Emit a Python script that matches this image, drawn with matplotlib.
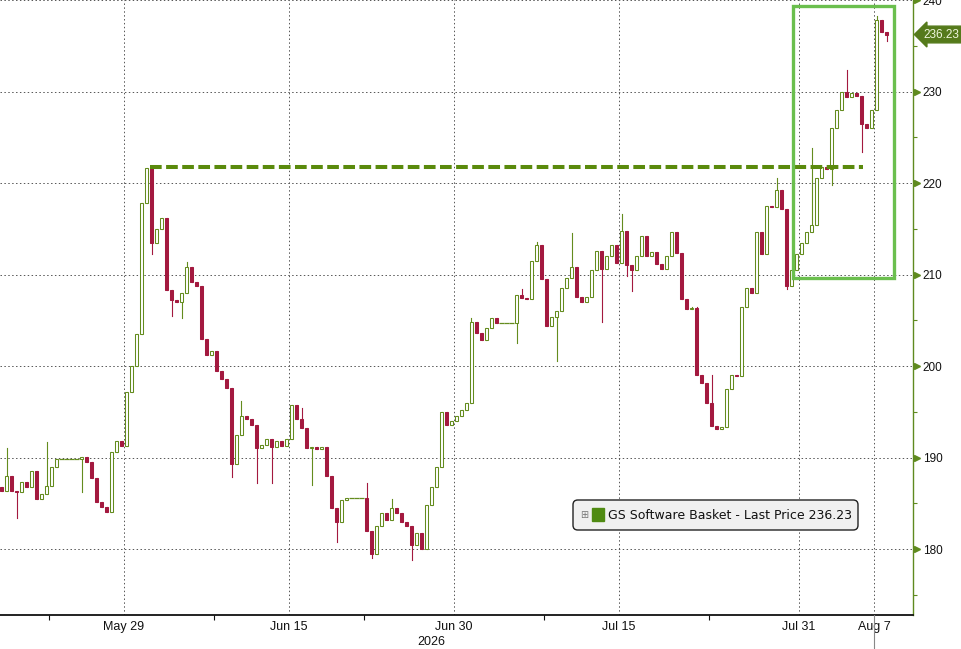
import matplotlib
matplotlib.use("Agg")
import matplotlib.pyplot as plt
import matplotlib.transforms as mtransforms
from matplotlib.patches import Rectangle, FancyBboxPatch
from matplotlib.lines import Line2D
import pandas as pd

# ---------------- data ----------------
days = pd.bdate_range("2026-05-18", "2026-08-07")  # 60 business days (holidays shown flat)
CANDLES_PER_DAY = 3
first_open = 187.0
closes = [
    187.5, 186.8, 186.3,   # May 18
    188.0, 186.4, 186.2,   # May 19
    187.3, 186.8, 188.5,   # May 20
    185.5, 186.0, 186.9,   # May 21
    189.0, 189.8, 189.8,   # May 22
    189.8, 189.8, 189.8,   # May 25 (holiday)
    190.1, 189.5, 187.8,   # May 26
    185.2, 184.6, 184.1,   # May 27
    190.6, 191.8, 191.3,   # May 28
    197.2, 200.0, 203.5,   # May 29
    217.8, 221.6, 213.5,   # Jun 1
    215.0, 216.2, 208.3,   # Jun 2
    207.2, 207.0, 208.0,   # Jun 3
    210.8, 209.2, 208.8,   # Jun 4
    203.0, 201.2, 201.6,   # Jun 5
    199.5, 198.6, 197.6,   # Jun 8
    189.3, 192.5, 194.5,   # Jun 9
    194.2, 193.6, 191.0,   # Jun 10
    191.4, 192.0, 191.2,   # Jun 11
    191.8, 191.3, 192.0,   # Jun 12
    195.8, 194.2, 193.2,   # Jun 15
    191.0, 191.2, 190.9,   # Jun 16
    191.2, 188.0, 184.5,   # Jun 17
    183.0, 185.4, 185.6,   # Jun 18
    185.6, 185.6, 185.6,   # Jun 19 (holiday)
    182.0, 179.5, 182.5,   # Jun 22
    184.0, 183.2, 184.5,   # Jun 23
    184.0, 183.0, 182.5,   # Jun 24
    180.5, 181.8, 180.0,   # Jun 25
    184.8, 186.8, 189.0,   # Jun 26
    195.0, 193.6, 194.0,   # Jun 29
    194.5, 195.2, 196.0,   # Jun 30
    204.8, 203.6, 202.8,   # Jul 1
    204.2, 205.3, 204.7,   # Jul 2
    204.7, 204.7, 204.7,   # Jul 3 (holiday)
    207.8, 207.4, 207.3,   # Jul 6
    211.5, 213.2, 209.5,   # Jul 7
    204.4, 205.4, 206.0,   # Jul 8
    208.5, 209.6, 210.8,   # Jul 9
    207.6, 207.0, 207.5,   # Jul 10
    210.5, 212.6, 210.6,   # Jul 13
    212.0, 213.2, 211.3,   # Jul 14
    214.8, 211.0, 210.5,   # Jul 15
    212.0, 214.2, 212.0,   # Jul 16
    212.5, 211.2, 210.6,   # Jul 17
    212.0, 214.6, 212.4,   # Jul 20
    207.3, 206.2, 206.4,   # Jul 21
    199.0, 198.2, 196.0,   # Jul 22
    193.4, 193.1, 193.3,   # Jul 23
    197.5, 199.0, 198.9,   # Jul 24
    206.5, 208.5, 208.0,   # Jul 27
    214.6, 212.2, 217.5,   # Jul 28
    217.4, 219.2, 217.2,   # Jul 29
    208.8, 210.5, 212.2,   # Jul 30
    213.5, 214.6, 215.4,   # Jul 31
    220.5, 221.8, 221.5,   # Aug 3
    226.0, 228.0, 230.0,   # Aug 4
    229.4, 229.8, 229.5,   # Aug 5
    226.4, 226.0, 228.0,   # Aug 6
    237.8, 236.5, 236.23,  # Aug 7
]
wick_highs = {3: 191.1, 11: 191.7, 39: 211.4, 50: 196.2, 62: 195.4, 75: 187.2,
              80: 185.5, 96: 205.3, 106: 208.4, 109: 213.6, 116: 214.5, 126: 216.6,
              144: 199.0, 157: 220.6, 164: 223.8, 171: 232.4, 177: 238.3}
wick_lows = {5: 183.4, 18: 186.2, 32: 212.3, 36: 205.5, 38: 205.3, 48: 187.9,
             53: 187.2, 56: 187.2, 64: 187.0, 69: 180.8, 76: 179.0, 84: 178.8,
             105: 202.5, 113: 200.6, 122: 204.8, 127: 209.8, 128: 208.2,
             159: 208.4, 168: 219.8, 174: 223.4, 179: 235.5}
resistance_level = 221.7
last_price = closes[-1]
series_name = "GS Software Basket"
tick_dates = ["2026-05-29", "2026-06-15", "2026-06-30", "2026-07-15", "2026-07-31", "2026-08-07"]
tick_labels = ["May 29", "Jun 15", "Jun 30", "Jul 15", "Jul 31", "Aug 7"]
minor_dates = ["2026-05-22", "2026-06-08", "2026-06-22", "2026-07-08", "2026-07-23"]
y_major = [180, 190, 200, 210, 220, 230, 240]
y_minor = [175, 185, 195, 205, 215, 225, 235]

# ---------------- style ----------------
UP = "#648c1e"
DOWN = "#a3193f"
OLIVE = "#5f8a1f"
BOX = "#6bbf4e"
DASH = "#5a8a0c"
SANS = ["Liberation Sans", "DejaVu Sans"]

W, H = 961, 649
fig = plt.figure(figsize=(W / 100, H / 100), dpi=100)
ax = fig.add_axes([0, 34 / H, 913 / W, 615 / H])

day_index = {d.strftime("%Y-%m-%d"): i for i, d in enumerate(days)}

# ---------------- candles ----------------
opens = [first_open] + closes[:-1]
bw = 0.16
for i, (o, c) in enumerate(zip(opens, closes)):
    d, k = divmod(i, CANDLES_PER_DAY)
    x = d + (k + 0.5) / CANDLES_PER_DAY
    hi = wick_highs.get(i, max(o, c))
    lo = wick_lows.get(i, min(o, c))
    if o == c and hi == lo:
        ax.plot([d + k / CANDLES_PER_DAY, d + (k + 1) / CANDLES_PER_DAY], [c, c],
                color=UP, lw=0.9, zorder=3, solid_capstyle="butt")
        continue
    up = c >= o
    col = UP if up else DOWN
    ax.plot([x, x], [lo, hi], color=col, lw=0.8, zorder=2)
    ax.add_patch(Rectangle((x - bw / 2, min(o, c)), bw, max(abs(c - o), 0.05),
                           facecolor="white" if up else DOWN, edgecolor=col,
                           lw=0.75, zorder=3))

# ---------------- annotations ----------------
ax.plot([10.73, 58.27], [resistance_level] * 2, color=DASH, lw=2.9,
        dashes=(2.9, 1.1), zorder=4, solid_capstyle="butt", dash_capstyle="butt")
ax.add_patch(Rectangle((53.6, 209.6), 60.33 - 53.6, 239.35 - 209.6, fill=False,
                       edgecolor=BOX, lw=2.4, zorder=5))

# ---------------- axes ----------------
ax.set_xlim(11 / 15, 924 / 15)
ax.set_ylim(172.8, 240.0)
for s in ["left", "top"]:
    ax.spines[s].set_visible(False)
ax.spines["bottom"].set_color("#111111")
ax.spines["bottom"].set_linewidth(1.3)
ax.spines["right"].set_color(OLIVE)
ax.spines["right"].set_linewidth(1.0)

ax.set_xticks([day_index[d] for d in tick_dates])
ax.set_xticklabels(tick_labels, family=SANS, fontsize=9)
ax.set_xticks([day_index[d] for d in minor_dates], minor=True)
ax.tick_params(axis="x", which="major", length=0, pad=4.5, colors="#111111")
ax.tick_params(axis="x", which="minor", length=3.5, width=0.8, direction="out", color="#111111")

ax.yaxis.tick_right()
ax.set_yticks(y_major)
ax.set_yticks(y_minor, minor=True)
ax.set_yticklabels([str(v) for v in y_major], family=SANS)
ax.tick_params(axis="y", which="major", length=0, pad=7, labelsize=8.5, labelcolor="#111111")
ax.tick_params(axis="y", which="minor", length=3, width=0.8, color=OLIVE, direction="out")

trans = mtransforms.blended_transform_factory(ax.transAxes, ax.transData)
tri = mtransforms.offset_copy(trans, fig=fig, x=3.5, y=0, units="dots")
ax.plot([1.0] * len(y_major), y_major, ls="none", marker=">", ms=4.5, color=OLIVE,
        transform=tri, clip_on=False, zorder=6)

ax.grid(True, which="major", color="#555555", lw=0.7, linestyle=(0, (1.5, 2.5)))
ax.set_axisbelow(True)

# last price tag
ax.annotate(f"{last_price:.2f}", xy=(1.0, last_price), xycoords=trans,
            xytext=(7.5, 0), textcoords="offset points", ha="left", va="center",
            fontsize=8.5, family=SANS, color="#eef6dc",
            bbox=dict(boxstyle="larrow,pad=0.2", fc="#557a1b", ec="#557a1b"),
            annotation_clip=False, zorder=7)

# year label and Aug 7 drop line
fig.text(431 / W, 1 - 642 / H, "2026", ha="center", va="center",
         family=SANS, fontsize=9, color="#111111")
fig.add_artist(Line2D([874 / W, 874 / W], [0, 34 / H], color="#888888", lw=0.8))

# legend box
def fx(x):
    return x / W

def fy(y):
    return 1 - y / H

fig.add_artist(FancyBboxPatch((fx(573), fy(530)), fx(858) - fx(573), fy(500) - fy(530),
                              boxstyle="round,pad=0,rounding_size=0.005",
                              mutation_aspect=W / H, transform=fig.transFigure,
                              facecolor="#f0f0f0", edgecolor="#222222", lw=1.0, zorder=8))
fig.text(fx(584), fy(515), "\u229e", ha="center", va="center", fontsize=7,
         color="#777777", zorder=9)
fig.add_artist(Rectangle((fx(592), fy(521)), fx(604) - fx(592), fy(508) - fy(521),
                         transform=fig.transFigure, facecolor="#4f8a12",
                         edgecolor="#4f8a12", zorder=9))
fig.text(fx(608), fy(515.5), f"{series_name} - Last Price {last_price:.2f}",
         ha="left", va="center", fontsize=9, color="#111111", zorder=9)

fig.savefig("out.png", dpi=100, facecolor="white")
